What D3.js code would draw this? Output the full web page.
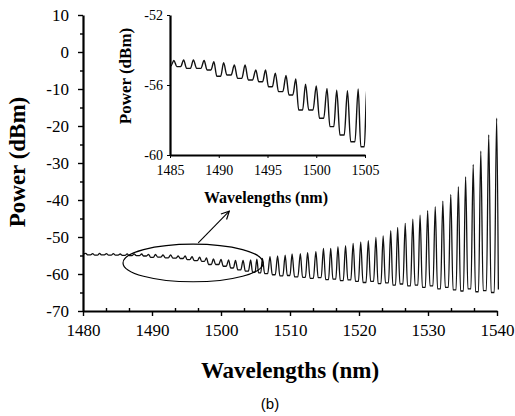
<!DOCTYPE html>
<html>
<head>
<meta charset="utf-8">
<style>
  body { margin: 0; background: #fff; }
  svg { display: block; }
  .serif text { font-family: "Liberation Serif", "Times New Roman", serif; }
</style>
</head>
<body>
<svg width="515" height="416"></svg>
<script src="https://cdn.jsdelivr.net/npm/d3@7/dist/d3.min.js"></script>
<script>

// spectrum: each peak, its height and the floor after it
var startNm = 1480, startDbm = -54.7;
var endNm = 1540.2, endDbm = -64.2;

var peakNm = [
  1480.4, 1481.4, 1482.4, 1483.4, 1484.4,
  1485.4, 1486.4, 1487.4, 1488.5, 1489.5, 1490.5, 1491.6, 1492.7, 1493.8, 1494.8,
  1495.8, 1496.9, 1497.9, 1498.9, 1500.0, 1501.1, 1502.1, 1503.2, 1504.3,
  1505.2, 1506.0, 1507.1, 1508.2, 1509.3, 1510.3, 1511.5, 1512.55, 1513.75, 1514.85,
  1515.9, 1516.95, 1518.05, 1519.15, 1520.25, 1521.35, 1522.45, 1523.5, 1524.6, 1525.6,
  1526.7, 1527.8, 1528.85, 1529.95, 1531.05, 1532.15, 1533.3, 1534.4, 1535.45, 1536.55,
  1537.65, 1538.8, 1539.95
];
var peakDbm = [
  -54.45, -54.5, -54.45, -54.5, -54.5,
  -54.6, -54.57, -54.57, -54.6, -54.67, -54.73, -54.86, -54.86, -55.14, -55.14,
  -55.32, -55.46, -55.66, -55.95, -56.06, -56.19, -56.3, -56.33, -56.22,
  -56.0, -55.8, -55.3, -55.1, -54.9, -54.6, -54.5, -54.2, -53.95, -53.1,
  -53.05, -52.6, -52.35, -51.7, -51.3, -51.0, -50.1, -49.7, -48.3, -47.4,
  -46.3, -45.2, -44.1, -42.9, -41.8, -40.3, -38.5, -36.4, -33.7, -30.4,
  -26.8, -22.4, -17.9
];
var troughDbm = [
  -54.85, -54.9, -54.85, -54.9, -54.9,
  -54.95, -55.05, -55.05, -55.14, -55.5, -55.43, -55.62, -55.71, -55.81, -56.1,
  -56.38, -56.57, -57.43, -57.43, -57.9, -58.38, -58.86, -59.24, -59.53,
  -59.7, -59.9, -60.2, -60.5, -60.4, -60.8, -60.9, -61.2, -61.0, -61.5,
  -61.4, -61.8, -61.6, -62.0, -62.3, -62.0, -62.6, -62.4, -63.0, -62.7,
  -63.2, -63.0, -63.6, -63.2, -64.0, -63.6, -64.3, -64.6, -64.0, -64.8,
  -64.5, -65.0, -64.2
];

var mainXTicks = [1480, 1490, 1500, 1510, 1520, 1530, 1540];
var mainYTicks = [10, 0, -10, -20, -30, -40, -50, -60, -70];
var insetXTicks = [1485, 1490, 1495, 1500, 1505];
var insetYTicks = [-52, -56, -60];

// annotation, in main-chart units
var ellipseAt = { nm: 1495.95, dbm: -57.0, rNm: 10.15, rDbm: 5.1 };
var arrowFrom = [1496.7, -51.6], arrowTo = [1501.2, -43.0];

// turn peaks into a polyline: sharp peak, flat floor between peaks
var spectrum = [[startNm, startDbm]];
peakNm.forEach(function(p, i) {
  spectrum.push([p, peakDbm[i]]);
  if (i < peakNm.length - 1) {
    var gap = peakNm[i + 1] - p;
    spectrum.push([p + gap * 0.3, troughDbm[i]]);
    spectrum.push([p + gap * 0.7, troughDbm[i]]);
  }
});
spectrum.push([endNm, endDbm]);

var svg = d3.select("svg");
var fmt = function(d) { return String(d); };

svg.append("defs").append("marker")
    .attr("id", "arrow")
    .attr("viewBox", "0 0 10 10")
    .attr("refX", 9).attr("refY", 5)
    .attr("markerWidth", 9).attr("markerHeight", 9)
    .attr("orient", "auto")
  .append("path")
    .attr("d", "M1,1 L9,5 L1,9")
    .attr("fill", "none")
    .attr("stroke", "#000")
    .attr("stroke-width", 1.2);

// ---------- main chart ----------
var x = d3.scaleLinear().domain([1480, 1540]).range([83, 497]);
var y = d3.scaleLinear().domain([-70, 10]).range([311, 15]);

var main = svg.append("g").attr("class", "serif");

var line = d3.line()
    .x(function(d) { return x(d[0]); })
    .y(function(d) { return y(d[1]); })
    .curve(d3.curveMonotoneX);

main.append("path")
    .datum(spectrum)
    .attr("fill", "none")
    .attr("stroke", "#111")
    .attr("stroke-width", 1.3)
    .attr("d", line);

var minorX = d3.range(0, 19).map(function(i) { return 1480 + i * 10 / 3; })
    .filter(function(v, i) { return i % 3 != 0; });
var minorY = d3.range(-65, 10, 10);

main.append("g")
    .attr("transform", "translate(0," + y(-70) + ")")
    .call(d3.axisTop(x).tickValues(minorX).tickSize(3).tickFormat(""))
    .call(function(g) { g.select(".domain").remove(); });

main.append("g")
    .attr("transform", "translate(" + x(1480) + ",0)")
    .call(d3.axisLeft(y).tickValues(minorY).tickSize(3).tickFormat(""))
    .call(function(g) { g.select(".domain").remove(); });

var gx = main.append("g")
    .attr("transform", "translate(0," + y(-70) + ")")
    .call(d3.axisBottom(x).tickValues(mainXTicks).tickSize(5).tickSizeOuter(0).tickFormat(fmt).tickPadding(8));
gx.selectAll("text").attr("font-size", 17).attr("font-family", null);

var gy = main.append("g")
    .attr("transform", "translate(" + x(1480) + ",0)")
    .call(d3.axisLeft(y).tickValues(mainYTicks).tickSize(5).tickSizeOuter(0).tickFormat(fmt).tickPadding(9));
gy.selectAll("text").attr("font-size", 17).attr("font-family", null);

main.selectAll(".domain").attr("stroke-width", 2.2);
main.selectAll(".tick line").attr("stroke-width", 1.4);

main.append("text")
    .attr("x", 290).attr("y", 378)
    .attr("text-anchor", "middle")
    .attr("font-size", 23).attr("font-weight", "bold")
    .text("Wavelengths (nm)");

main.append("text")
    .attr("transform", "translate(25,162) rotate(-90)")
    .attr("text-anchor", "middle")
    .attr("font-size", 23).attr("font-weight", "bold")
    .text("Power (dBm)");

main.append("ellipse")
    .attr("cx", x(ellipseAt.nm)).attr("cy", y(ellipseAt.dbm))
    .attr("rx", x(ellipseAt.nm + ellipseAt.rNm) - x(ellipseAt.nm))
    .attr("ry", y(ellipseAt.dbm - ellipseAt.rDbm) - y(ellipseAt.dbm))
    .attr("fill", "none")
    .attr("stroke", "#000")
    .attr("stroke-width", 1.2);

main.append("line")
    .attr("x1", x(arrowFrom[0])).attr("y1", y(arrowFrom[1]))
    .attr("x2", x(arrowTo[0])).attr("y2", y(arrowTo[1]))
    .attr("stroke", "#000")
    .attr("stroke-width", 1.1)
    .attr("marker-end", "url(#arrow)");

// ---------- inset ----------
var xi = d3.scaleLinear().domain([1485, 1505]).range([170, 365]);
var yi = d3.scaleLinear().domain([-60, -52]).range([155, 15]);

var inset = svg.append("g").attr("class", "serif");

inset.append("clipPath").attr("id", "insetClip")
  .append("rect")
    .attr("x", xi(1485)).attr("y", yi(-52))
    .attr("width", xi(1505) - xi(1485) + 1)
    .attr("height", yi(-60) - yi(-52));

var lineInset = d3.line()
    .x(function(d) { return xi(d[0]); })
    .y(function(d) { return yi(d[1]); })
    .curve(d3.curveMonotoneX);

inset.append("path")
    .datum(spectrum)
    .attr("clip-path", "url(#insetClip)")
    .attr("fill", "none")
    .attr("stroke", "#111")
    .attr("stroke-width", 1.4)
    .attr("d", lineInset);

var gxi = inset.append("g")
    .attr("transform", "translate(0," + yi(-60) + ")")
    .call(d3.axisBottom(xi).tickValues(insetXTicks).tickSize(3).tickSizeOuter(0).tickFormat(fmt).tickPadding(7));
gxi.selectAll("text").attr("font-size", 14).attr("font-family", null);

var gyi = inset.append("g")
    .attr("transform", "translate(" + xi(1485) + ",0)")
    .call(d3.axisLeft(yi).tickValues(insetYTicks).tickSize(3).tickSizeOuter(0).tickFormat(fmt).tickPadding(4));
gyi.selectAll("text").attr("font-size", 14).attr("font-family", null);

inset.selectAll(".domain").attr("stroke-width", 2.2);

inset.append("text")
    .attr("x", 266).attr("y", 203)
    .attr("text-anchor", "middle")
    .attr("font-size", 16).attr("font-weight", "bold")
    .text("Wavelengths (nm)");

inset.append("text")
    .attr("transform", "translate(131,76) rotate(-90)")
    .attr("text-anchor", "middle")
    .attr("font-size", 17).attr("font-weight", "bold")
    .text("Power (dBm)");

svg.append("text")
    .attr("x", 270).attr("y", 409)
    .attr("text-anchor", "middle")
    .attr("font-family", "Liberation Sans, Arial, sans-serif")
    .attr("font-size", 15)
    .text("(b)");

</script>
</body>
</html>
